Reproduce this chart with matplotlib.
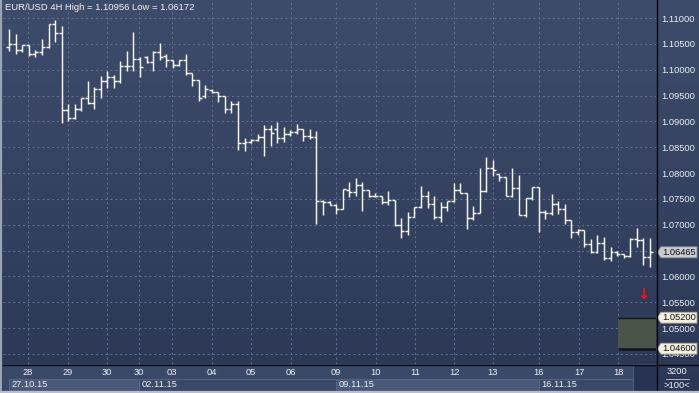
import numpy as np
import matplotlib
matplotlib.use("Agg")
import matplotlib.pyplot as plt
from matplotlib.patches import Rectangle, Polygon
from matplotlib.transforms import blended_transform_factory

plt.rcParams.update({'font.family': ['Liberation Sans', 'DejaVu Sans'], 'font.size': 6.5})

# EUR/USD 4H bars
opens = [1.10436, 1.10494, 1.10378, 1.10468, 1.10301, 1.10333, 1.10430, 1.10878, 1.10705, 1.09218,
         1.09058, 1.09244, 1.09455, 1.09359, 1.09635, 1.09789, 1.09853, 1.09789, 1.10077, 1.10077,
         1.10212, 1.10244, 1.10141, 1.10340, 1.10256, 1.10180, 1.10096, 1.10192, 1.09936, 1.09808,
         1.09487, 1.09615, 1.09571, 1.09487, 1.09244, 1.09340, 1.08590, 1.08603, 1.08635, 1.08705,
         1.08846, 1.08859, 1.08686, 1.08763, 1.08795, 1.08846, 1.08718, 1.08705, 1.07455, 1.07436,
         1.07385, 1.07295, 1.07673, 1.07628, 1.07769, 1.07673, 1.07564, 1.07551, 1.07436, 1.07468,
         1.07000, 1.06872, 1.07147, 1.07340, 1.07564, 1.07404, 1.07147, 1.07340, 1.07449, 1.07673,
         1.07615, 1.07128, 1.07224, 1.07660, 1.08090, 1.07981, 1.07917, 1.07564, 1.07705, 1.07192,
         1.07513, 1.07724, 1.07244, 1.07224, 1.07404, 1.07308, 1.07083, 1.06859, 1.06904, 1.06635,
         1.06462, 1.06647, 1.06346, 1.06474, 1.06423, 1.06398, 1.06731, 1.06699, 1.06378]
highs = [1.10788, 1.10686, 1.10481, 1.10481, 1.10385, 1.10596, 1.10878, 1.10956, 1.10846, 1.09327,
         1.09340, 1.09455, 1.09776, 1.09660, 1.09872, 1.09968, 1.09904, 1.10160, 1.10365, 1.10737,
         1.10237, 1.10256, 1.10365, 1.10513, 1.10308, 1.10192, 1.10192, 1.10308, 1.09936, 1.09808,
         1.09699, 1.09635, 1.09571, 1.09487, 1.09391, 1.09391, 1.08673, 1.08667, 1.08763, 1.08923,
         1.08923, 1.08987, 1.08898, 1.08833, 1.08942, 1.08859, 1.08846, 1.08814, 1.07481, 1.07455,
         1.07404, 1.07692, 1.07821, 1.07897, 1.07833, 1.07673, 1.07615, 1.07564, 1.07647, 1.07468,
         1.07128, 1.07244, 1.07340, 1.07744, 1.07660, 1.07564, 1.07436, 1.07449, 1.07808, 1.07801,
         1.07615, 1.07359, 1.08090, 1.08301, 1.08256, 1.07981, 1.07929, 1.08096, 1.07962, 1.07513,
         1.07737, 1.07724, 1.07276, 1.07596, 1.07449, 1.07404, 1.07083, 1.06923, 1.06904, 1.06718,
         1.06808, 1.06763, 1.06571, 1.06487, 1.06423, 1.06744, 1.06936, 1.06744, 1.06744]
lows = [1.10365, 1.10301, 1.10340, 1.10256, 1.10244, 1.10276, 1.10417, 1.10545, 1.08974, 1.09007,
        1.09045, 1.09199, 1.09340, 1.09231, 1.09455, 1.09648, 1.09648, 1.09744, 1.09968, 1.09981,
        1.09859, 1.10128, 1.09981, 1.10180, 1.10051, 1.10032, 1.10064, 1.09904, 1.09680, 1.09391,
        1.09455, 1.09551, 1.09372, 1.09167, 1.09154, 1.08449, 1.08430, 1.08577, 1.08622, 1.08333,
        1.08513, 1.08577, 1.08603, 1.08718, 1.08750, 1.08622, 1.08667, 1.07019, 1.07192, 1.07372,
        1.07199, 1.07295, 1.07532, 1.07564, 1.07256, 1.07532, 1.07532, 1.07404, 1.07372, 1.06974,
        1.06744, 1.06808, 1.07147, 1.07321, 1.07321, 1.07103, 1.07051, 1.07256, 1.07436, 1.07615,
        1.06910, 1.07083, 1.07224, 1.07641, 1.07949, 1.07840, 1.07551, 1.07545, 1.07180, 1.07147,
        1.07468, 1.06859, 1.07103, 1.07192, 1.07212, 1.07019, 1.06744, 1.06795, 1.06571, 1.06442,
        1.06449, 1.06314, 1.06295, 1.06398, 1.06359, 1.06378, 1.06571, 1.06218, 1.06172]
closes = [1.10494, 1.10378, 1.10468, 1.10301, 1.10333, 1.10430, 1.10878, 1.10705, 1.09218, 1.09058,
          1.09244, 1.09455, 1.09359, 1.09635, 1.09789, 1.09853, 1.09789, 1.10077, 1.10077, 1.10212,
          1.10045, 1.10141, 1.10340, 1.10244, 1.10180, 1.10096, 1.10192, 1.09936, 1.09808, 1.09455,
          1.09635, 1.09571, 1.09487, 1.09244, 1.09340, 1.08590, 1.08603, 1.08635, 1.08705, 1.08846,
          1.08782, 1.08686, 1.08763, 1.08795, 1.08846, 1.08718, 1.08705, 1.07455, 1.07436, 1.07385,
          1.07295, 1.07692, 1.07628, 1.07769, 1.07673, 1.07551, 1.07551, 1.07436, 1.07468, 1.07000,
          1.06872, 1.07147, 1.07340, 1.07564, 1.07404, 1.07147, 1.07340, 1.07449, 1.07673, 1.07615,
          1.07128, 1.07224, 1.07660, 1.08090, 1.08058, 1.07917, 1.07564, 1.07705, 1.07192, 1.07513,
          1.07724, 1.07244, 1.07224, 1.07404, 1.07308, 1.07083, 1.06859, 1.06904, 1.06635, 1.06462,
          1.06647, 1.06346, 1.06474, 1.06423, 1.06398, 1.06731, 1.06699, 1.06378, 1.06465]

price_ticks = [1.110, 1.105, 1.100, 1.095, 1.090, 1.085, 1.080, 1.075, 1.070, 1.065,
               1.060, 1.055, 1.050, 1.045]
# 1.06500 sits under the last-price tag in the original, so its label is not shown
hidden_ticks = [1.065]
day_pos = [2.86, 8.98, 14.95, 19.85, 24.9, 31.0, 37.0, 43.1, 50.0, 56.1, 62.1, 68.05, 74.0, 81.0, 87.2, 93.2]
day_labels = ['28', '29', '30', '30', '03', '04', '05', '06', '09', '10', '11', '12', '13', '16', '17', '18']
week_start = [-0.05, 19.85, 50.0, 81.0]
week_end = [19.85, 50.0, 81.0, 95.4]
week_labels = ['27.10.15', '02.11.15', '09.11.15', '16.11.15']

last_price = 1.06465
zone_top, zone_bottom = 1.05200, 1.04600
zone_from = 93.1
arrow_x, arrow_y = 96.96, 1.0564

W, H = 699, 393
fig = plt.figure(figsize=(W / 100, H / 100), dpi=100)

# background gradient over whole figure
bg = fig.add_axes([0, 0, 1, 1])
grad = np.linspace(0, 1, 256).reshape(-1, 1)
cmap = matplotlib.colors.LinearSegmentedColormap.from_list('bgc', ['#3e4c6b', '#2b3755'])
bg.imshow(grad, extent=[0, 1, 0, 1], aspect='auto', cmap=cmap)
bg.set_xlim(0, 1)
bg.set_ylim(0, 1)
bg.axis('off')

ax = fig.add_axes([3 / W, 29 / H, 653 / W, 364 / H])
ax.patch.set_visible(False)
ax.set_xlim(-0.964, 98.96)
ax.set_ylim(1.043033, 1.113484)

for s in ax.spines.values():
    s.set_visible(False)

# grid
for v in price_ticks:
    ax.axhline(v, color='#65749a', lw=0.7, ls=(0, (2, 3)), zorder=0)
for d in day_pos:
    ax.axvline(d, color='#65749a', lw=0.7, ls=(0, (2, 3)), zorder=0)

# support zone
ax.add_patch(Rectangle((zone_from, zone_bottom), 200, zone_top - zone_bottom,
                       facecolor='#4a5449', edgecolor='none', zorder=1))
ax.hlines(zone_top, zone_from, 200, color='#10141c', lw=1.0, zorder=1.5)
ax.hlines(zone_bottom, zone_from, 200, color='#10141c', lw=1.8, zorder=1.5)

# OHLC bars
x = np.arange(len(opens))
tick = 0.45
ax.vlines(x, lows, highs, color='#f6f6f6', lw=1.05, zorder=3)
ax.hlines(opens, x - tick, x, color='#f6f6f6', lw=1.05, zorder=3)
ax.hlines(closes, x, x + tick, color='#f6f6f6', lw=1.05, zorder=3)

ax.text(arrow_x, arrow_y, '\u2193', color='#ff1010', fontsize=10.5, fontweight='bold',
        ha='center', va='center', family='DejaVu Sans', zorder=4)

# right price scale
ax.yaxis.tick_right()
ax.set_yticks(price_ticks)
ax.set_yticklabels(['' if v in hidden_ticks else '%.5f' % v for v in price_ticks])
ax.tick_params(axis='y', length=0, pad=3.5, labelsize=6.7, labelcolor='#eef0f6')
ax.set_xticks([])

tr = blended_transform_factory(ax.transAxes, ax.transData)
px = 1 / 653
hh = 5.5 / 5166.7
tags = [(last_price, '#c9cbcf', '#8a8e96'), (zone_top, '#f2f0dc', '#9a9888'), (zone_bottom, '#f2f0dc', '#9a9888')]
for p, fc, ec in tags:
    pts = [(1 + 1 * px, p), (1 + 5 * px, p + hh), (1 + 41 * px, p + hh),
           (1 + 41 * px, p - hh), (1 + 5 * px, p - hh)]
    ax.add_patch(Polygon(pts, closed=True, transform=tr, facecolor=fc, edgecolor=ec,
                         lw=0.6, clip_on=False, zorder=5))
    ax.text(1 + 23 * px, p, '%.5f' % p, transform=tr, ha='center', va='center',
            fontsize=6.7, color='#101018', clip_on=False, zorder=6)

# bottom time strip
sx = fig.add_axes([3 / W, 2 / H, 653 / W, 27 / H])
sx.set_xlim(ax.get_xlim())
sx.set_ylim(0, 27)
sx.axis('off')
sx.add_patch(Rectangle((-5, 0), 200, 27, facecolor='#3a4968', edgecolor='none'))
for i, (a, b, lab) in enumerate(zip(week_start, week_end, week_labels)):
    fc = '#4a5979' if i % 2 == 0 else '#3a4968'
    sx.add_patch(Rectangle((a, 0.5), b - a, 12, facecolor=fc, edgecolor='#5a6888', lw=0.6))
    sx.text(a + 0.4, 6.5, lab, color='#eef0f6', fontsize=6.7, va='center', ha='left')
sx.add_patch(Rectangle((95.4, 0), 10, 27, facecolor='#263352', edgecolor='#56647f', lw=0.6))
for d, lab in zip(day_pos, day_labels):
    sx.text(d, 18.5, lab, color='#eef0f6', fontsize=6.7, ha='center', va='center')

# bottom right counter
fig.text(677 / W, 1 - 372 / H, '3200', color='#eef0f6', fontsize=6.7, ha='center', va='center')
fig.text(677 / W, 1 - 385 / H, '>100<', color='#eef0f6', fontsize=6.7, ha='center', va='center')
fig.add_artist(plt.Line2D([666 / W, 689 / W], [1 - 378.5 / H, 1 - 378.5 / H], color='#c8ccd8', lw=0.6))
fig.patches.append(Rectangle((656 / W, 2 / H), 43 / W, 27 / H, transform=fig.transFigure,
                             facecolor='#3a4968', edgecolor='none', zorder=-0.5))

# frame lines
fig.add_artist(plt.Line2D([656.5 / W, 656.5 / W], [0, 1], color='#05070c', lw=1.0))
fig.add_artist(plt.Line2D([3 / W, 1], [1 - 364.5 / H, 1 - 364.5 / H], color='#05070c', lw=1.0))
fig.add_artist(plt.Line2D([1 / W, 1 / W], [0, 1], color='#9aa4b8', lw=1.6))
fig.add_artist(plt.Line2D([0, 1], [1 / H, 1 / H], color='#b8c0cc', lw=1.6))

fig.text(5 / W, 1 - 8 / H, 'EUR/USD 4H High = 1.10956 Low = 1.06172', color='#f4f4f8',
         fontsize=6.8, ha='left', va='center')

fig.savefig('out.png', dpi=100)
